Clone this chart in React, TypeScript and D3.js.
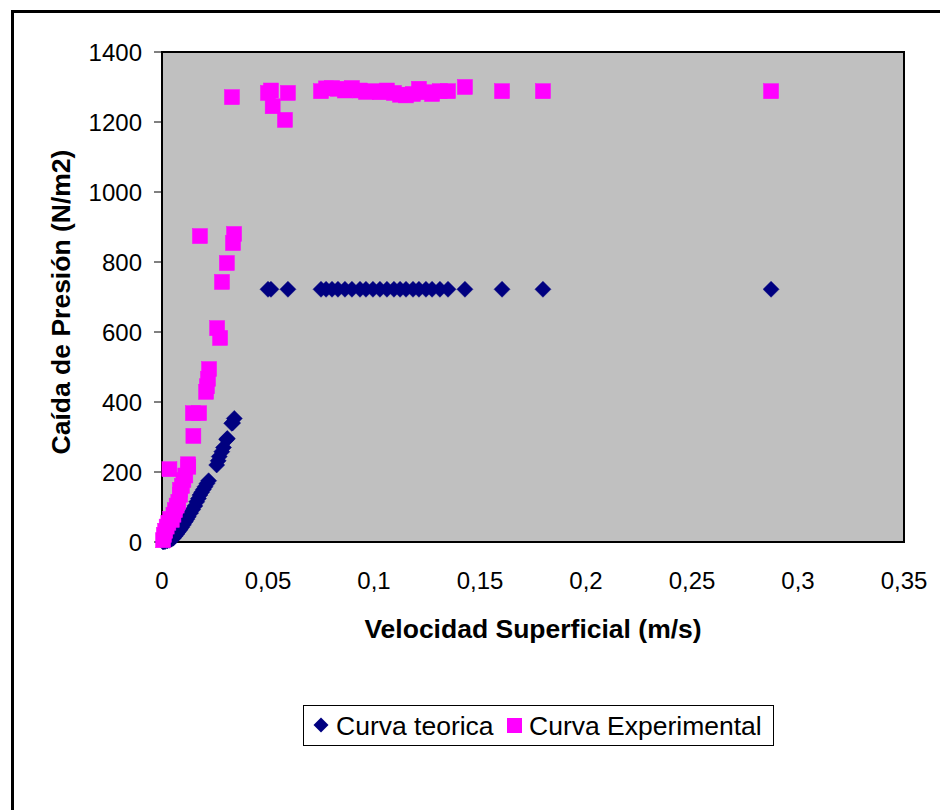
import React from "react";
import * as d3 from "d3";

// Curva teorica (blue diamonds)
const teoX = [
  0.0005, 0.0014, 0.0025, 0.0035, 0.0045, 0.0053, 0.0062, 0.007, 0.0077, 0.0085,
  0.0093, 0.0101, 0.011, 0.0117, 0.0124, 0.0135, 0.0145, 0.0155, 0.0164, 0.0172,
  0.0179, 0.0187, 0.0195, 0.0203, 0.0212, 0.022, 0.0258, 0.0265, 0.027, 0.0282,
  0.029, 0.0305, 0.0308, 0.0329, 0.0333, 0.0341,
  0.05, 0.0514, 0.0594, 0.075, 0.0774, 0.0802, 0.083, 0.0863, 0.0896, 0.0934,
  0.0962, 0.0995, 0.1028, 0.1061, 0.1094, 0.1123, 0.1151, 0.1184, 0.1212, 0.1245,
  0.1274, 0.1311, 0.1349, 0.1429, 0.1604, 0.1797, 0.2873,
];
const teoY = [
  0, 1, 3, 5, 8, 11, 17, 23, 29, 35,
  42, 49, 58, 65, 72, 83, 93, 103, 115, 124,
  134, 142, 150, 158, 167, 175, 220, 232, 244, 258,
  270, 293, 296, 339, 340, 353,
  722, 722, 722, 722, 722, 722, 722, 722, 722, 722,
  722, 722, 722, 722, 722, 722, 722, 722, 722, 722,
  722, 722, 722, 722, 722, 722, 722,
];

// Curva Experimental (magenta squares)
const expX = [
  0.0005, 0.0009, 0.0015, 0.0022, 0.003, 0.0038, 0.0046, 0.0054, 0.0061, 0.0069,
  0.0077, 0.0085, 0.0085, 0.0094, 0.0101, 0.011, 0.0124, 0.0123, 0.0035, 0.0148,
  0.0146, 0.0175, 0.0208, 0.0212, 0.0217, 0.0222, 0.026, 0.0274, 0.0283, 0.0306,
  0.0179, 0.0335, 0.034,
  0.033, 0.05, 0.0514, 0.0522, 0.058, 0.0594, 0.075, 0.0774, 0.0802, 0.083,
  0.0863, 0.0896, 0.0934, 0.0962, 0.0995, 0.1028, 0.1061, 0.1094, 0.1123, 0.1151,
  0.1184, 0.1212, 0.1245, 0.1274, 0.1311, 0.1349, 0.1429, 0.1604, 0.1797, 0.2873,
];
const expY = [
  5, 20, 32, 44, 55, 66, 63, 78, 91, 104,
  115, 135, 149, 160, 177, 190, 215, 222, 208, 303,
  368, 368, 429, 445, 466, 494, 611, 583, 743, 797,
  874, 854, 880,
  1271, 1283, 1290, 1245, 1206, 1283, 1288, 1296, 1297, 1295,
  1290, 1297, 1290, 1286, 1288, 1285, 1290, 1283, 1278, 1276,
  1280, 1295, 1285, 1280, 1288, 1288, 1300, 1288, 1288, 1288,
];

const xTicks = [0, 0.05, 0.1, 0.15, 0.2, 0.25, 0.3, 0.35];
const yTicks = [0, 200, 400, 600, 800, 1000, 1200, 1400];

const seriesNames = ["Curva teorica", "Curva Experimental"];
const colors = ["#000080", "#FF00FF"];

const W = 940;
const H = 810;
const left = 162;
const right = 904;
const top = 52;
const bottom = 542;

const fmt = (v: number) => String(v).replace(".", ",");
const font = "Arial, 'Liberation Sans', sans-serif";

export default function App() {
  const x = d3.scaleLinear().domain([0, 0.35]).range([left, right]);
  const y = d3.scaleLinear().domain([0, 1400]).range([bottom, top]);
  const diamond = (cx: number, cy: number, r: number) =>
    `M${cx},${cy - r}L${cx + r},${cy}L${cx},${cy + r}L${cx - r},${cy}Z`;

  return (
    <svg
      width={W}
      height={H}
      style={{ position: "absolute", left: 0, top: 0, background: "#fff" }}
      fontFamily={font}
    >
      <rect x={0} y={0} width={W} height={H} fill="#fff" />
      <rect x={12.5} y={11.5} width={W + 20} height={H + 20} fill="none" stroke="#000" strokeWidth={3} />
      <rect x={left} y={top} width={right - left} height={bottom - top} fill="#C0C0C0" stroke="#000" strokeWidth={2} />

      {yTicks.map((t) => (
        <g key={"y" + t}>
          <line x1={left - 8} x2={left} y1={y(t)} y2={y(t)} stroke="#000" strokeWidth={1} />
          <text x={left - 20} y={y(t)} dy="0.36em" textAnchor="end" fontSize={24}>
            {fmt(t)}
          </text>
        </g>
      ))}
      {xTicks.map((t) => (
        <text key={"x" + t} x={x(t)} y={589} textAnchor="middle" fontSize={24}>
          {fmt(t)}
        </text>
      ))}

      <text x={(left + right) / 2} y={638} textAnchor="middle" fontSize={26.5} fontWeight="bold">
        Velocidad Superficial (m/s)
      </text>
      <text
        transform={`translate(70,302) rotate(-90)`}
        textAnchor="middle"
        fontSize={26.5}
        fontWeight="bold"
      >
        Caída de Presión (N/m2)
      </text>

      <g>
        {teoX.map((v, i) => (
          <path key={"t" + i} d={diamond(x(v), y(teoY[i]), 8)} fill={colors[0]} stroke={colors[0]} strokeWidth={0.5} />
        ))}
      </g>
      <g>
        {expX.map((v, i) => (
          <rect
            key={"e" + i}
            x={x(v) - 7.5}
            y={y(expY[i]) - 7.5}
            width={15}
            height={15}
            fill={colors[1]}
            stroke={colors[1]}
            strokeWidth={0.5}
          />
        ))}
      </g>

      <g>
        <rect x={303.5} y={705.5} width={470} height={40} fill="#fff" stroke="#000" strokeWidth={1} />
        <path d={diamond(321, 725, 7.5)} fill={colors[0]} />
        <text x={336} y={735} fontSize={26.5}>
          {seriesNames[0]}
        </text>
        <rect x={507} y={718} width={15} height={15} fill={colors[1]} />
        <text x={529} y={735} fontSize={26.5}>
          {seriesNames[1]}
        </text>
      </g>
    </svg>
  );
}
